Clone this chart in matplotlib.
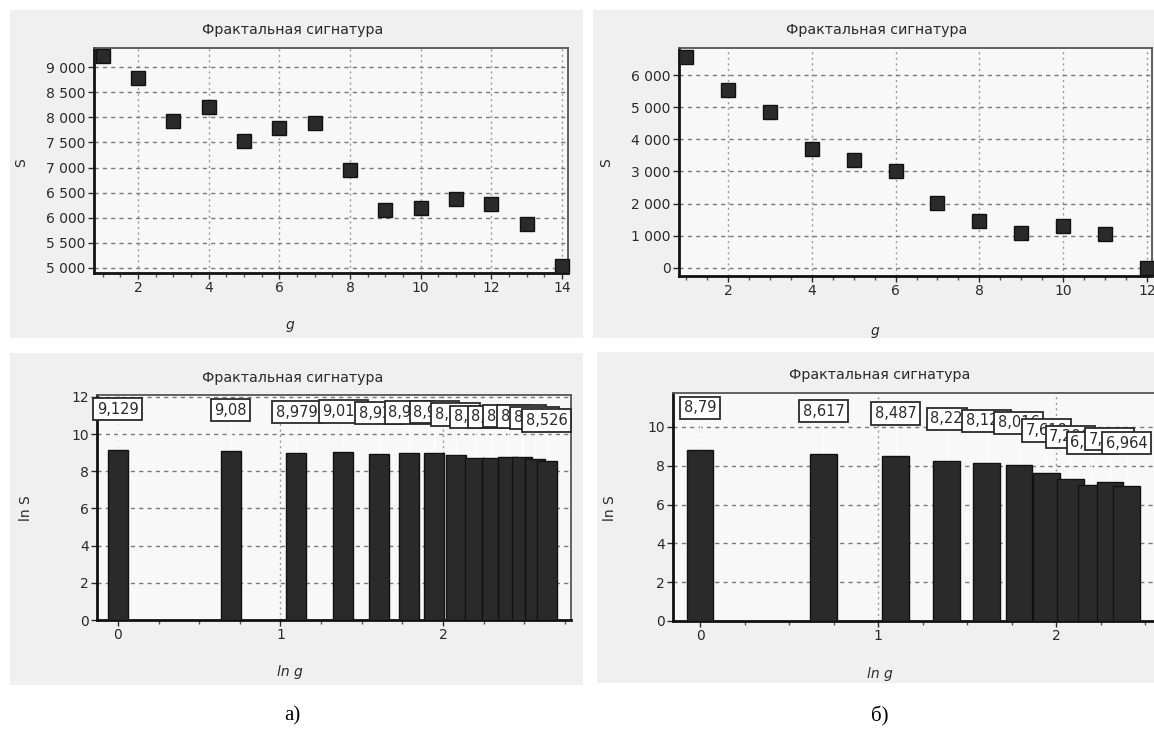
import numpy as np
import matplotlib
matplotlib.use("Agg")
import matplotlib.pyplot as plt
from matplotlib.patches import Rectangle
from matplotlib.ticker import FuncFormatter, MultipleLocator

# data
g_a = np.arange(1, 15)
S_a = [9215, 8776, 7935, 8212, 7522, 7778, 7877, 6950, 6163, 6200, 6380, 6280, 5867, 5043]
g_b = np.arange(1, 13)
S_b = [6568, 5525, 4852, 3714, 3370, 3030, 2034, 1475, 1084, 1311, 1058, 0]

title = "Фрактальная сигнатура"
captions = ["а)", "б)"]

W, H = 1154, 731
fig = plt.figure(figsize=(W / 100, H / 100), dpi=100)
fig.patch.set_facecolor("white")

PANEL = "#f0f0f0"
DARK = "#2a2a2a"


def px_axes(l, r, t, b):
    return fig.add_axes([l / W, (H - b) / H, (r - l) / W, (b - t) / H])


def panel(l, r, t, b):
    fig.patches.append(Rectangle((l / W, (H - b) / H), (r - l) / W, (b - t) / H,
                                 transform=fig.transFigure, fc=PANEL, ec="none", zorder=-5))


def style(ax):
    ax.set_facecolor("#f8f8f8")
    for s in ["left", "bottom"]:
        ax.spines[s].set_color("#111111")
        ax.spines[s].set_linewidth(2)
    for s in ["top", "right"]:
        ax.spines[s].set_color("#555555")
        ax.spines[s].set_linewidth(1.3)
    ax.tick_params(direction="out", length=4, width=1, color=DARK, labelsize=10,
                   labelcolor=DARK, pad=2)
    ax.tick_params(which="minor", direction="out", length=3, width=1, color="#555555")
    ax.grid(axis="y", which="major", ls=(0, (3, 3)), color="#7a7a7a", lw=1)
    ax.grid(axis="x", which="major", ls=(0, (1.5, 2.5)), color="#9a9a9a", lw=1)
    ax.set_axisbelow(True)


thousands = FuncFormatter(lambda v, p: f"{int(round(v)):,}".replace(",", " "))

# panels
panel(10, 583, 10, 338)
panel(593, 1160, 10, 338)
panel(10, 583, 353, 685)
panel(597, 1160, 352, 683)

# top left scatter
ax1 = px_axes(94, 568, 48, 273)
style(ax1)
ax1.plot(g_a, S_a, ls="none", marker="s", ms=10, mfc=DARK, mec="#111111", mew=1,
         clip_on=False, zorder=5)
ax1.set_xlim(0.755, 14.17)
ax1.set_ylim(4900, 9380)
ax1.xaxis.set_major_locator(MultipleLocator(2))
ax1.xaxis.set_minor_locator(MultipleLocator(0.5))
ax1.yaxis.set_major_locator(MultipleLocator(500))
ax1.yaxis.set_major_formatter(thousands)
ax1.set_xlabel("g", style="italic", fontsize=10, color=DARK)
ax1.xaxis.set_label_coords((290 - 94) / 474, -0.2)
ax1.set_ylabel("S", fontsize=10, color=DARK)
ax1.yaxis.set_label_coords((28 - 94) / 474, (273 - 163) / 225)

# top right scatter
ax2 = px_axes(679, 1152, 48, 276)
style(ax2)
ax2.plot(g_b, S_b, ls="none", marker="s", ms=10, mfc=DARK, mec="#111111", mew=1,
         clip_on=False, zorder=5)
ax2.set_xlim(0.83, 12.12)
ax2.set_ylim(-250, 6840)
ax2.xaxis.set_major_locator(MultipleLocator(2))
ax2.xaxis.set_minor_locator(MultipleLocator(0.5))
ax2.yaxis.set_major_locator(MultipleLocator(1000))
ax2.yaxis.set_major_formatter(thousands)
ax2.set_xlabel("g", style="italic", fontsize=10, color=DARK)
ax2.xaxis.set_label_coords((875 - 679) / 473, -0.21)
ax2.set_ylabel("S", fontsize=10, color=DARK)
ax2.yaxis.set_label_coords((613 - 679) / 473, (276 - 163) / 228)


def fmt(v):
    return f"{v:.3f}".rstrip("0").rstrip(".").replace(".", ",")


def bars(ax, g, S, width):
    g = np.asarray(g, float)
    S = np.asarray(S, float)
    keep = S > 0
    x = np.log(g[keep])
    y = np.log(S[keep])
    ax.bar(x, y, width=width, color=DARK, edgecolor="#111111", lw=1, zorder=3)
    for i, (xi, yi) in enumerate(zip(x, y)):
        ax.plot([xi, xi], [yi, yi + 1.8], color="white", lw=1, zorder=2.5)
        ax.text(xi, yi + 2.2, fmt(yi), ha="center", va="center", fontsize=10.5,
                color=DARK, zorder=10 + i, clip_on=False,
                bbox=dict(boxstyle="square,pad=0.25", fc="white", ec=DARK, lw=1.3))


# bottom left bars
ax3 = px_axes(97, 571, 395, 620)
style(ax3)
bars(ax3, g_a, S_a, 0.123)
ax3.set_xlim(-0.129, 2.788)
ax3.set_ylim(0, 12.1)
ax3.xaxis.set_major_locator(MultipleLocator(1))
ax3.xaxis.set_minor_locator(MultipleLocator(0.25))
ax3.yaxis.set_major_locator(MultipleLocator(2))
ax3.set_xlabel("ln g", style="italic", fontsize=10, color=DARK)
ax3.xaxis.set_label_coords((290 - 97) / 474, -0.2)
ax3.set_ylabel("ln S", fontsize=10, color=DARK)
ax3.yaxis.set_label_coords((33 - 97) / 474, (620 - 508) / 225)

# bottom right bars
ax4 = px_axes(673, 1170, 393, 621)
style(ax4)
bars(ax4, g_b, S_b, 0.15)
ax4.set_xlim(-0.152, (1170 - 700) / 178)
ax4.set_ylim(0, 11.75)
ax4.xaxis.set_major_locator(MultipleLocator(1))
ax4.xaxis.set_minor_locator(MultipleLocator(0.25))
ax4.yaxis.set_major_locator(MultipleLocator(2))
ax4.set_xlabel("ln g", style="italic", fontsize=10, color=DARK)
ax4.xaxis.set_label_coords((880 - 673) / 497, -0.2)
ax4.set_ylabel("ln S", fontsize=10, color=DARK)
ax4.yaxis.set_label_coords((617 - 673) / 497, (621 - 508) / 228)

# titles
for x, y in [(293, 30), (877, 30), (293, 378), (880, 375)]:
    fig.text(x / W, 1 - y / H, title, ha="center", va="center", fontsize=10.3, color=DARK)

# captions
fig.text(292 / W, 1 - 716 / H, captions[0], ha="center", va="center",
         fontsize=15, family="Liberation Serif", color="black")
fig.text(880 / W, 1 - 716 / H, captions[1], ha="center", va="center",
         fontsize=15, family="Liberation Serif", color="black")

fig.savefig("out.png", dpi=100)
